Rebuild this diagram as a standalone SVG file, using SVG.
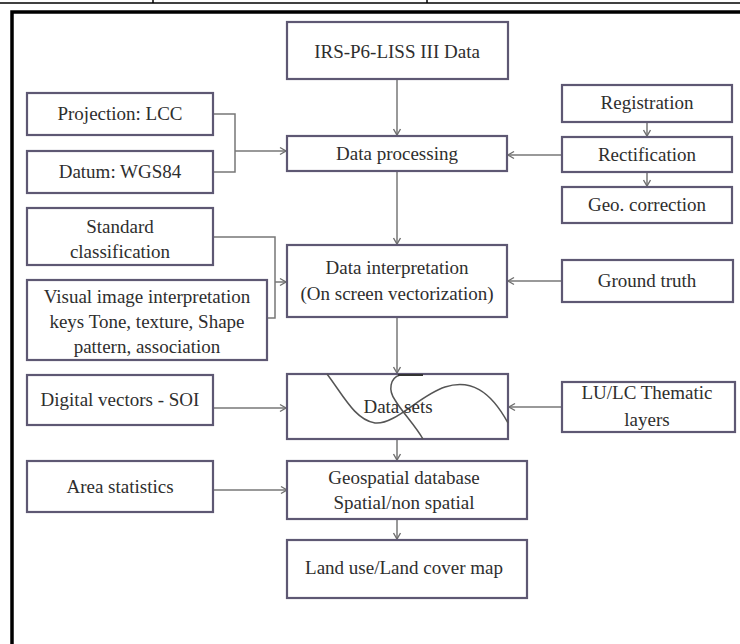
<svg xmlns="http://www.w3.org/2000/svg" width="740" height="644" viewBox="0 0 740 644">
<defs>
<marker id="ah" markerWidth="10" markerHeight="10" refX="8" refY="5" orient="auto" markerUnits="userSpaceOnUse">
<path d="M2,1.5 L8,5 L2,8.5" fill="none" stroke="#6e6e6e" stroke-width="1.4"/>
</marker>
<style>
.box{fill:#fff;stroke:#5e5873;stroke-width:2.2}
.t{font-family:"Liberation Serif","Times New Roman",serif;font-size:19px;fill:#2e2e2e;text-anchor:middle}
.c{fill:none;stroke:#777;stroke-width:1.5}
.a{fill:none;stroke:#777;stroke-width:1.5;marker-end:url(#ah)}
.cv{fill:none;stroke:#555;stroke-width:1.5}
</style>
</defs>
<rect x="0" y="0" width="740" height="644" fill="#fff"/>
<g id="frame">
<line x1="0" y1="3" x2="740" y2="3" stroke="#000" stroke-width="1.5"/>
<line x1="153" y1="0" x2="153" y2="3" stroke="#000" stroke-width="1.5"/>
<line x1="427" y1="0" x2="427" y2="3" stroke="#000" stroke-width="1.5"/>
<path d="M12,650 L12,12 L745,12" fill="none" stroke="#000" stroke-width="3.5"/>
</g>
<g id="connectors">
<line class="a" x1="397" y1="79" x2="397" y2="135"/>
<path class="c" d="M213,114 H235 V172 H213"/>
<line class="a" x1="235" y1="151" x2="286" y2="151"/>
<line class="a" x1="562" y1="155" x2="508" y2="155"/>
<line class="a" x1="647" y1="122" x2="647" y2="136"/>
<line class="a" x1="647" y1="172" x2="647" y2="186"/>
<line class="a" x1="397" y1="171" x2="397" y2="244"/>
<path class="c" d="M213,237 H275 V318 H267"/>
<line class="a" x1="275" y1="282" x2="286" y2="282"/>
<line class="a" x1="562" y1="281" x2="508" y2="281"/>
<line class="a" x1="397" y1="317" x2="397" y2="373"/>
<line class="a" x1="213" y1="408" x2="286" y2="408"/>
<line class="a" x1="562" y1="407" x2="509" y2="407"/>
<line class="a" x1="397" y1="439" x2="397" y2="460"/>
<line class="a" x1="213" y1="490" x2="287" y2="490"/>
<line class="a" x1="397" y1="519" x2="397" y2="539"/>
</g>
<g id="irs"><rect class="box" x="287" y="22" width="221" height="57"/><text class="t" x="397" y="58">IRS-P6-LISS III Data</text></g>
<g id="projection"><rect class="box" x="27" y="93" width="186" height="42"/><text class="t" x="120" y="120">Projection: LCC</text></g>
<g id="datum"><rect class="box" x="27" y="151" width="186" height="42"/><text class="t" x="120" y="178">Datum: WGS84</text></g>
<g id="processing"><rect class="box" x="287" y="136" width="220" height="35"/><text class="t" x="397" y="160">Data processing</text></g>
<g id="registration"><rect class="box" x="562" y="85" width="170" height="37"/><text class="t" x="647" y="109">Registration</text></g>
<g id="rectification"><rect class="box" x="562" y="137" width="170" height="35"/><text class="t" x="647" y="161">Rectification</text></g>
<g id="geocorrection"><rect class="box" x="562" y="187" width="170" height="36"/><text class="t" x="647" y="211">Geo. correction</text></g>
<g id="standard"><rect class="box" x="27" y="208" width="186" height="57"/><text class="t" x="120" y="233">Standard</text><text class="t" x="120" y="258">classification</text></g>
<g id="visual"><rect class="box" x="27" y="280" width="240" height="80"/><text class="t" x="147" y="303">Visual image interpretation</text><text class="t" x="147" y="328">keys Tone, texture, Shape</text><text class="t" x="147" y="353">pattern, association</text></g>
<g id="interpretation"><rect class="box" x="287" y="245" width="220" height="72"/><text class="t" x="397" y="274">Data interpretation</text><text class="t" x="397" y="300">(On screen vectorization)</text></g>
<g id="groundtruth"><rect class="box" x="562" y="260" width="171" height="42"/><text class="t" x="647" y="287">Ground truth</text></g>
<g id="digital"><rect class="box" x="27" y="375" width="186" height="50"/><text class="t" x="120" y="406">Digital vectors - SOI</text></g>
<g id="datasets"><rect class="box" x="287" y="374" width="221" height="65"/>
<path class="cv" d="M327,374 C343,395 355,420 375,423 C395,425 420,395 445,387 C470,379 490,390 508,423"/>
<path class="cv" d="M400,375 C390,378 388,390 395,400 C402,412 415,425 423,439"/>
<line x1="398" y1="375" x2="423" y2="375" stroke="#333" stroke-width="2"/>
<text class="t" x="398" y="413">Data sets</text></g>
<g id="lulc"><rect class="box" x="562" y="382" width="173" height="50"/><text class="t" x="647" y="399">LU/LC Thematic</text><text class="t" x="647" y="426">layers</text></g>
<g id="area"><rect class="box" x="27" y="461" width="186" height="51"/><text class="t" x="120" y="493">Area statistics</text></g>
<g id="geospatial"><rect class="box" x="287" y="461" width="240" height="58"/><text class="t" x="404" y="484">Geospatial database</text><text class="t" x="404" y="509">Spatial/non spatial</text></g>
<g id="landuse"><rect class="box" x="287" y="540" width="240" height="58"/><text class="t" x="404" y="574">Land use/Land cover map</text></g>
</svg>
